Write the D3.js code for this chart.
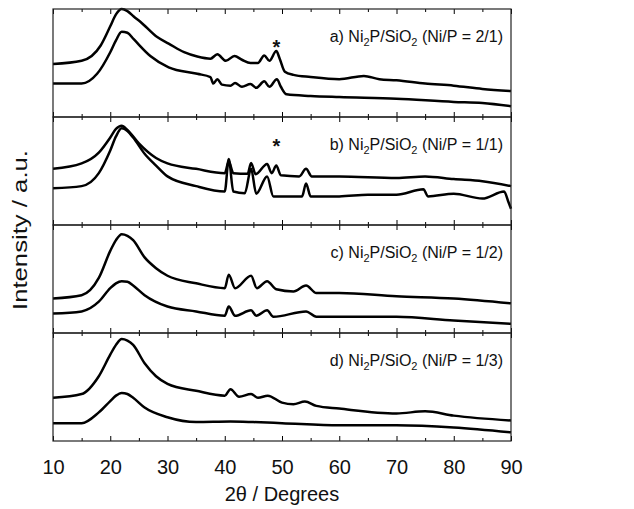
<!DOCTYPE html>
<html>
<head>
<meta charset="utf-8">
<script src="https://cdn.jsdelivr.net/npm/d3@7"></script>
<style>
body { margin: 0; background: #fff; }
text { font-family: "Liberation Sans", Arial, sans-serif; fill: #111; }
</style>
</head>
<body>
<div id="vis"></div>
<script>
// traces: [2theta, intensity (a.u., 0-100 inside each panel)]
var a1 = [[10,49],[15,52],[18.3,66],[20,84],[21,95],[22,100],[23,98],[24.1,93],[25.3,88],[28.2,74],[30.2,68],[32.9,60],[35.2,56],[37.5,54],[38.7,58],[40.2,52],[41.7,56.5],[43,53],[44.5,50],[45.8,50],[46.9,57],[47.8,52],[49,61],[49.6,54],[50.5,42],[52,39],[55,37],[60,35],[64.3,38],[67,35],[70,34],[75,31],[80,29],[85,26],[90,24]];
var a2 = [[10,31],[15,31],[17.7,40],[20,60],[21,71],[22,79],[23,78],[24.1,72],[27,56.5],[30.2,46],[35.2,40],[37.5,37],[38,31],[38.7,35],[39.5,30],[41,29],[41.8,31.5],[43,28],[44.5,30.5],[45.5,27],[46.9,33],[47.8,28],[49.1,35],[49.8,28],[50.8,21],[55,19.5],[60,18.5],[70,17],[80,14],[85,13],[90,10]];
var b1 = [[10,52],[15,57],[18,67],[20,81],[21,89],[22,92],[23,88],[25,75.5],[28,62],[30,57],[35,52],[40,48],[40.7,59],[41.5,48],[44,47.5],[44.6,57.5],[45.4,47],[47.4,56.5],[48.2,48],[49,55],[49.8,46],[53,45],[54.2,52],[55.2,45],[60,45],[70,43.5],[75,45],[80,42.5],[85,40.5],[90,36]];
var b2 = [[10,34],[15,36],[18,48],[20,69],[21,82],[22,89.5],[23,87],[24,81],[26,66],[28,55],[30,45],[35,36],[40,31],[40.7,61],[41.5,31],[43.5,29.5],[44.6,52],[45.5,29],[47.4,45],[48.5,26.5],[50,26.5],[53.5,26.5],[54.2,38.5],[55,26.5],[60,26.5],[65,28],[70,28],[74.7,33],[75.5,26.5],[80,29],[85,24.5],[88.8,31],[89.5,22],[90,15]];
var c1 = [[10,32],[15,35],[18,51],[20,76],[21,86],[22,91.5],[23,90],[24,86],[26,70],[28,60],[30,53],[35,46],[40,41.5],[40.7,54],[41.8,41.5],[44.6,53],[45.6,41.5],[47.4,48],[49,40.5],[52,38.5],[54.2,44],[56,37],[60,37],[70,34],[80,32],[90,27.5]];
var c2 = [[10,18],[15,20],[18,29],[20,41.5],[21,46],[22,48],[23,47.5],[24,44],[26,35],[30,24.5],[35,20],[40,16],[40.7,24.5],[41.8,16],[44.6,21],[45.5,16],[47.4,21],[48.5,15],[54.2,20],[56,15],[70,15],[80,11.5],[90,8.5]];
var d1 = [[10,40],[15,43.5],[18,60],[20,80],[21,89],[22,94.5],[23,93],[24,89],[26,72],[28,60],[30,53],[35,46.5],[40,42],[41,48],[42.5,41],[44.6,43.5],[45.8,40],[47.5,42],[50,35.5],[52,34],[54,36.5],[56,32.5],[60,30],[70,25.5],[75,27.5],[80,23.5],[90,19]];
var d2 = [[10,16.5],[15,16.5],[18,26.5],[20,37],[21,42],[22,44.5],[23,43.5],[24,40],[26,31],[30,22],[35,17.5],[41,18],[45,17.5],[50,16.5],[60,14.5],[70,14.5],[80,12.5],[90,8]];

var panelIds = ["a", "b", "c", "d"];
var ratios = ["2/1", "1/1", "1/2", "1/3"];
var traces = [[a1, a2], [b1, b2], [c1, c2], [d1, d2]];
var starPanels = ["a", "b"];
var starAt = 49;
var xTicks = [10, 20, 30, 40, 50, 60, 70, 80, 90];
var xMinor = [15, 25, 35, 45, 55, 65, 75, 85];

var w = 634, h = 509;
var left = 53, right = 511, plotTop = 9, panelH = 108;

var svg = d3.select("#vis").append("svg")
  .attr("width", w)
  .attr("height", h);

var x = d3.scaleLinear().domain([10, 90]).range([left, right]);

var line = d3.line()
  .x(d => x(d[0]))
  .curve(d3.curveMonotoneX);

panelIds.forEach(function(id, i) {
  var y0 = plotTop + i * panelH;
  var y = d3.scaleLinear().domain([0, 100]).range([y0 + panelH, y0]);
  var g = svg.append("g");

  //the traces
  traces[i].forEach(function(t) {
    g.append("path")
      .datum(t)
      .attr("d", line.y(d => y(d[1])))
      .attr("fill", "none")
      .attr("stroke", "#000")
      .attr("stroke-width", 2.5)
      .attr("stroke-linejoin", "round");
  });

  //ticks inside, top and bottom
  g.append("g")
    .attr("transform", `translate(0, ${y0 + panelH})`)
    .call(d3.axisBottom(x).tickValues(xTicks).tickSize(-5).tickFormat(""))
    .call(a => a.select(".domain").remove());
  g.append("g")
    .attr("transform", `translate(0, ${y0 + panelH})`)
    .call(d3.axisBottom(x).tickValues(xMinor).tickSize(-3).tickFormat(""))
    .call(a => a.select(".domain").remove());
  g.append("g")
    .attr("transform", `translate(0, ${y0})`)
    .call(d3.axisTop(x).tickValues(xTicks).tickSize(-5).tickFormat(""))
    .call(a => a.select(".domain").remove());
  g.append("g")
    .attr("transform", `translate(0, ${y0})`)
    .call(d3.axisTop(x).tickValues(xMinor).tickSize(-3).tickFormat(""))
    .call(a => a.select(".domain").remove());

  g.append("rect")
    .attr("x", left).attr("y", y0)
    .attr("width", right - left).attr("height", panelH)
    .attr("fill", "none")
    .attr("stroke", "#222")
    .attr("stroke-width", 1.2);

  //panel label
  var lab = g.append("text")
    .attr("x", 503)
    .attr("y", y0 + 33)
    .attr("text-anchor", "end")
    .attr("font-size", 16);
  lab.append("tspan").text(id + ") Ni");
  lab.append("tspan").attr("font-size", 11).attr("dy", 4).text("2");
  lab.append("tspan").attr("dy", -4).text("P/SiO");
  lab.append("tspan").attr("font-size", 11).attr("dy", 4).text("2");
  lab.append("tspan").attr("dy", -4).text(" (Ni/P = " + ratios[i] + ")");

  if (starPanels.indexOf(id) >= 0) {
    g.append("text")
      .attr("x", x(starAt))
      .attr("y", y0 + (i == 0 ? 45 : 36))
      .attr("text-anchor", "middle")
      .attr("font-size", 20)
      .attr("font-weight", "bold")
      .text("*");
  }
});

//x tick labels
var bottomY = plotTop + 4 * panelH;
svg.append("g")
  .attr("transform", `translate(0, ${bottomY})`)
  .call(d3.axisBottom(x).tickValues(xTicks).tickSize(0).tickPadding(19))
  .call(a => a.select(".domain").remove())
  .selectAll("text")
  .attr("font-size", 20)
  .attr("fill", "#111")
  .attr("font-family", "Liberation Sans, Arial, sans-serif");

svg.append("text")
  .attr("x", (left + right) / 2)
  .attr("y", 501)
  .attr("text-anchor", "middle")
  .attr("font-size", 20)
  .text("2θ / Degrees");

svg.append("text")
  .attr("transform", `translate(27, 230) rotate(-90)`)
  .attr("text-anchor", "middle")
  .attr("font-size", 21)
  .attr("textLength", 160)
  .attr("lengthAdjust", "spacingAndGlyphs")
  .text("Intensity / a.u.");
</script>
</body>
</html>
